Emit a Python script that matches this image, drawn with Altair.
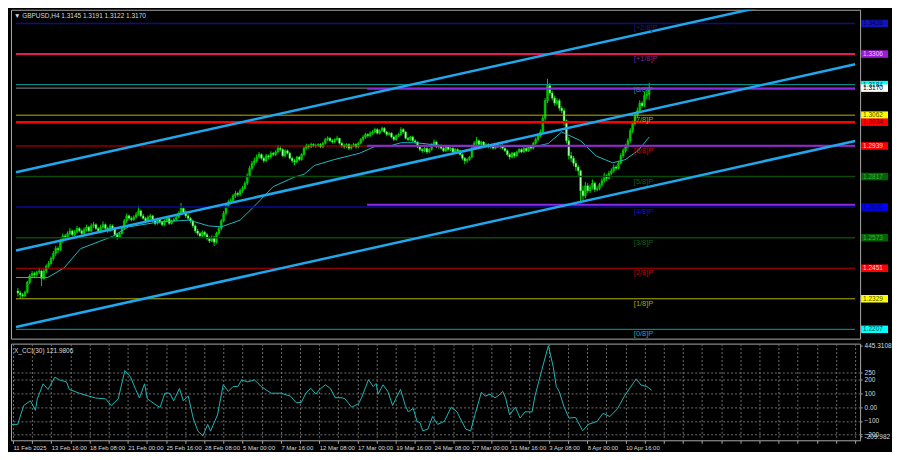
import altair as alt
import pandas as pd

# ---------------- layout ----------------
W = 852
H_MAIN = 330
H_CCI = 97
X_MIN, X_MAX = -0.814, 354.1
Y_MIN, Y_MAX = 1.21699, 1.34829

# ---------------- candles (pips: 2352 -> 1.2352) ----------------
first_open_pip = 2360
close_pips = [
 2352,2345,2340,2355,
 2395,2420,2430,2425,
 2435,2440,2410,
 2440,2460,2470,
 2490,2510,2530,2525,
 2560,2580,2575,2590,2600,2585,2595,2610,2600,2590,
 2605,2615,2600,2620,2625,2610,2600,2615,2625,2610,2600,2620,2610,
 2585,2575,2590,2610,
 2640,2660,2650,2645,2655,2665,2680,2660,2650,2640,2655,2660,
 2640,2630,2645,2635,2625,2640,2650,2630,2640,2645,2655,
 2670,2690,
 2675,2660,2650,2640,
 2620,2600,2590,2580,2595,2585,2570,2560,2575,2555,
 2590,2610,2640,2670,2700,2715,
 2720,2740,2750,2745,2760,2770,
 2790,2820,2850,2870,2880,2895,
 2905,2890,2880,2900,2895,2910,
 2905,2915,2930,2925,2900,2920,
 2910,2890,2880,2875,2895,2885,
 2905,2930,2940,2935,2945,2940,
 2940,2945,2935,2950,
 2965,2970,2960,2955,2965,2970,
 2950,2940,2935,2945,2930,2940,2945,2935,2950,
 2965,2975,2985,2980,2990,
 2995,3005,2990,3000,3010,2995,2985,2990,
 2975,2965,2980,2985,
 3005,2995,
 2970,2965,2975,2960,2955,
 2935,2925,2920,2930,2915,2925,
 2945,2955,2935,2940,
 2930,2920,2935,2925,2930,2915,2925,2920,
 2905,2890,2880,2885,2895,
 2930,2950,2960,2945,2955,2940,
 2945,2935,2940,2930,2945,2935,2940,2930,
 2920,2905,2895,2910,2900,2915,
 2925,2915,2930,2920,2935,2930,
 2950,2965,2980,2995,
 3050,3120,3180,3150,
 3130,3110,3120,3090,
 3080,3040,
 2960,2900,
 2890,2870,2855,2840,
 2760,2740,
 2780,2760,2775,2790,2765,2770,2785,
 2800,2820,2810,2830,
 2840,2855,2850,2870,
 2900,2920,2935,
 2960,3000,3030,3060,
 3080,3110,3100,
 3140,3145,3170]

high_pips = [
 2372,2360,2352,2362,
 2400,2428,2440,2438,
 2442,2452,2445,
 2448,2466,2480,
 2498,2520,2540,2538,
 2568,2590,2588,2598,2612,2605,2604,2620,2615,2606,
 2614,2625,2620,2630,2636,2630,2615,2625,2638,2630,2616,2628,2626,
 2615,2592,2596,2618,
 2648,2670,2665,2658,2662,2675,2700,2685,2668,2656,2662,2668,
 2664,2646,2652,2650,2640,2646,2658,2655,2645,2652,2662,
 2678,2712,
 2695,2682,2668,2656,
 2645,2626,2608,2598,2602,2600,2592,2578,2582,2580,
 2596,2618,2648,2680,2710,2725,
 2730,2748,2760,2756,2768,2780,
 2798,2830,2860,2880,2892,2905,
 2915,2910,2896,2908,2905,2918,
 2915,2922,2942,2938,2930,2926,
 2925,2915,2896,2888,2900,2900,
 2910,2936,2948,2946,2952,2950,
 2948,2950,2950,2956,
 2972,2978,2975,2966,2970,2980,
 2972,2955,2948,2950,2950,2945,2952,2950,2956,
 2970,2982,2992,2990,2998,
 3002,3012,3010,3006,3016,3014,3000,2996,
 2994,2980,2985,2992,
 3014,3010,
 2998,2976,2980,2980,2966,
 2958,2940,2932,2936,2934,2930,
 2950,2965,2960,2946,
 2945,2936,2940,2940,2935,2934,2930,2930,
 2924,2910,2895,2892,2900,
 2935,2958,2975,2965,2960,2958,
 2950,2950,2946,2944,2950,2948,2944,2946,
 2934,2925,2910,2915,2915,2920,
 2930,2930,2936,2934,2940,2940,
 2956,2972,2990,3005,
 3060,3130,3207,3190,
 3160,3140,3130,3128,
 3098,3090,
 3045,2975,
 2915,2900,2880,2862,
 2845,2780,
 2795,2790,2785,2805,2795,2780,2792,
 2810,2832,2826,2840,
 2850,2865,2862,2880,
 2910,2930,2948,
 2970,3010,3040,3072,
 3092,3122,3118,
 3155,3165,3191]

low_pips = [
 2338,2330,2333,2336,
 2350,2388,2412,2415,
 2418,2428,2380,
 2405,2432,2450,
 2462,2482,2500,2512,
 2520,2552,2566,2568,2582,2578,2580,2588,2594,2582,
 2584,2598,2594,2595,2612,2604,2592,2596,2608,2604,2592,2596,2602,
 2578,2565,2570,2585,
 2605,2632,2642,2638,2640,2650,2660,2655,2645,2632,2635,2648,
 2634,2622,2625,2630,2618,2620,2634,2624,2626,2636,2640,
 2650,2664,
 2668,2652,2644,2632,
 2612,2592,2582,2572,2575,2578,2562,2552,2555,2540,
 2550,2582,2602,2634,2662,2692,
 2705,2712,2732,2736,2738,2752,
 2765,2782,2812,2842,2860,2872,
 2888,2884,2872,2875,2885,2888,
 2898,2898,2910,2918,2895,2894,
 2905,2885,2872,2862,2870,2878,
 2880,2900,2925,2928,2930,2934,
 2932,2934,2930,2930,
 2945,2958,2955,2948,2950,2960,
 2945,2932,2928,2930,2922,2925,2934,2928,2930,
 2945,2958,2968,2972,2975,
 2984,2990,2985,2985,2995,2990,2978,2980,
 2970,2958,2960,2975,
 2980,2988,
 2965,2958,2960,2955,2948,
 2930,2918,2912,2915,2908,2910,
 2920,2938,2930,2928,
 2925,2914,2915,2920,2918,2910,2910,2912,
 2900,2882,2866,2872,2880,
 2890,2925,2942,2940,2940,2935,
 2935,2930,2928,2925,2926,2930,2928,2925,
 2915,2898,2885,2890,2892,2896,
 2910,2910,2912,2915,2915,2925,
 2925,2944,2958,2974,
 2990,3040,3110,3140,
 3120,3100,3102,3080,
 3070,3020,
 2950,2885,
 2875,2858,2840,2820,
 2710,2720,
 2730,2750,2752,2765,2755,2758,2762,
 2775,2792,2800,2805,
 2822,2832,2842,2845,
 2865,2892,2912,
 2928,2952,2990,3020,
 3050,3070,3092,
 3095,3125,3122]

# ---------------- moving average (bar, price) ----------------
ma_bar = [-0.8, 12.6, 19.5, 26.5, 40, 46.8, 60, 72.4, 80.6, 86, 94, 101, 108, 117, 121,
          125.4, 133.5, 144.5, 151, 158, 162, 167.3, 171.3, 178.3, 189.3, 198.6, 212, 219,
          224.3, 230, 238, 244.6, 251.5, 256.8, 262.5, 267]
ma_val = [1.2414, 1.2414, 1.2452, 1.2529, 1.2578, 1.2616, 1.2636, 1.2643, 1.2620, 1.2616,
          1.2643, 1.2708, 1.2777, 1.2815, 1.2826, 1.2861, 1.2884, 1.2910, 1.2937, 1.2941,
          1.2952, 1.2952, 1.2949, 1.2941, 1.2937, 1.2937, 1.2937, 1.2937, 1.2949, 1.2995,
          1.2960, 1.2899, 1.2872, 1.2884, 1.2922, 1.2975]

# ---------------- regression channel ----------------
chan_bar = [-0.814, 354.1]
chan_upper = [1.2834, 1.3577]
chan_mid = [1.2522, 1.3265]
chan_lower = [1.2216, 1.2959]

# ---------------- Murrey levels ----------------
level_names = ['[+2/8]P', '[+1/8]P', '[8/8]P', '[7/8]P', '[6/8]P', '[5/8]P',
               '[4/8]P', '[3/8]P', '[2/8]P', '[1/8]P', '[0/8]P']
level_prices = [1.3428, 1.3306, 1.3184, 1.3062, 1.2939, 1.2817,
                1.2695, 1.2573, 1.2451, 1.2329, 1.2207]
red_level = 1.3034
bid_price = 1.3170
purple_prices = [1.3167, 1.2940, 1.2704]
purple_from_bar = 147.7
LABEL_BAR = 260.5

level_line_colors = ['#0c0c8c', '#e8185a', '#00a0a0', '#b4b400', '#d40000', '#0a4a0a',
                     '#0a0a96', '#0a4a0a', '#c80000', '#b4b400', '#00a0a0']
level_line_widths = [1.5, 2, 1, 1, 1, 1.5, 1.5, 1.5, 1, 1, 1]
level_box_fill = ['#1414b4', '#9a1ed2', '#00ffff', '#ffff00', '#ff0000', '#006400',
                  '#0000ff', '#006400', '#ff0000', '#ffff00', '#00ffff']
level_box_text = ['#000060', '#f0c0ff', '#005050', '#505000', '#ffd0d0', '#40b040',
                  '#000070', '#40b040', '#ffd0d0', '#505000', '#005050']
level_label_colors = ['#1a1aa0', '#7a2a9a', '#3a7ab8', '#b4a000', '#d00000', '#106010',
                      '#1414c8', '#106010', '#c80000', '#b4a000', '#2aa0b4']

# ---------------- CCI ----------------
cci_bar = [-0.8, 2, 4.5, 7.3, 9.4, 10.2, 12.6, 14.7, 17.5, 19.5,
           22.4, 23.6, 27.7, 31.7, 34.6, 38.7, 41.1, 44, 46.8, 49.2,
           51.3, 52.9, 55, 56.2, 59, 61.5, 63.5, 65.5, 67.2, 69.6,
           71.2, 73.3, 75.3, 77.3, 79.4, 81.4, 82.6, 85.5, 87.9, 90,
           92, 94, 95.6, 98, 101, 103.8, 107.9, 112, 116, 118.4,
           120.5, 122.5, 124.5, 126.6, 128.2, 130.6, 132.7, 134.7, 137.6, 138.8,
           140.4, 141.6, 144.5, 145.7, 148.6, 150.6, 151.8, 152.6, 154.7, 156.7,
           158.7, 160, 162, 164, 165.2, 167.3, 168.9, 170.1, 171.3, 173.4,
           175.4, 177.5, 180.3, 183.2, 185.6, 187.6, 189.3, 191.3, 193.3, 195.8,
           197.4, 199.4, 201.5, 202.7, 204.7, 205.9, 207.6, 210, 212, 214,
           217, 218.2, 221, 223.8, 225.9, 227.1, 228.3, 230.4, 232.4, 235.2,
           238.1, 240.5, 244.2, 246.6, 249.5, 252.7, 255.6, 260.5, 262.5, 265,
           267]
cci_val = [-125, -125, 12, 46, -23, 60, 169, 128, 217, 197,
           183, 128, 101, 80, 66, 60, 12, 60, 265, 217,
           128, 66, 169, 60, 25, -2, 101, 101, 46, 135,
           46, 80, -77, -173, -208, -125, -173, -57, 162, 114,
           149, 149, 197, 183, 197, 149, 101, 101, 80, 32,
           34, 103, 137, 94, 128, 162, 135, 68, 68, 60,
           25, 0, 25, 68, 199, 149, 171, 94, 162, 114,
           12, 60, 128, 12, -34, -9, -103, -112, -171, -160,
           -68, -125, -103, 0, -34, -103, -160, -171, -45, 108,
           80, 94, 68, 80, 114, 68, -57, 0, -79, -34,
           -34, 80, 265, 445, 286, 149, 114, 0, -79, -75,
           -171, -125, -103, -45, -68, -11, 80, 205, 160, 149,
           122]
cci_max = 445.3108
cci_min = -209.982
cci_title = 'X_CCI(30) 121.9806'

# ---------------- axes text ----------------
x_labels = ['11 Feb 2025', '13 Feb 16:00', '18 Feb 08:00', '21 Feb 00:00', '25 Feb 16:00',
            '28 Feb 08:00', '5 Mar 00:00', '7 Mar 16:00', '12 Mar 08:00', '17 Mar 00:00',
            '19 Mar 16:00', '24 Mar 08:00', '27 Mar 00:00', '31 Mar 16:00', '3 Apr 08:00',
            '8 Apr 00:00', '10 Apr 16:00']
price_ticks = [1.2180, 1.2260, 1.2340, 1.2420, 1.2500, 1.2580, 1.2660, 1.2740, 1.2820,
               1.2900, 1.2980, 1.3060, 1.3140, 1.3220, 1.3300, 1.3380, 1.3460]
hidden_price_labels = ['1.3300', '1.3060', '1.2820', '1.2580', '1.2340']
grid_bars = list(range(0, 353, 8))
title_text = '\u25bc GBPUSD,H4  1.3145 1.3191 1.3122 1.3170'

FONT = 'Liberation Sans'

# ---------------- tables ----------------
n = len(close_pips)
opens = [first_open_pip] + close_pips[:-1]
cdf = pd.DataFrame({
    'i': list(range(n)),
    'o': [1 + v / 10000 for v in opens],
    'c': [1 + v / 10000 for v in close_pips],
    'h': [1 + max(h, o, c) / 10000 for h, o, c in zip(high_pips, opens, close_pips)],
    'l': [1 + min(l, o, c) / 10000 for l, o, c in zip(low_pips, opens, close_pips)],
})
madf = pd.DataFrame({'b': ma_bar, 'p': ma_val})

chan_rows = []
for name, vals in (('up', chan_upper), ('mid', chan_mid), ('low', chan_lower)):
    for b, p in zip(chan_bar, vals):
        chan_rows.append({'name': name, 'b': b, 'p': p})
chdf = pd.DataFrame(chan_rows)

line_rows = []
for p, col, w in zip(level_prices, level_line_colors, level_line_widths):
    line_rows.append({'p': p, 'col': col, 'w': w, 'x0': X_MIN, 'x1': X_MAX})
line_rows.append({'p': red_level, 'col': '#ff0000', 'w': 2.5, 'x0': X_MIN, 'x1': X_MAX})
line_rows.append({'p': bid_price, 'col': '#8c8c8c', 'w': 1, 'x0': X_MIN, 'x1': X_MAX})
for p in purple_prices:
    line_rows.append({'p': p, 'col': '#8a2be2', 'w': 2, 'x0': purple_from_bar, 'x1': X_MAX})
ldf = pd.DataFrame(line_rows)

BOX_HALF = 0.0015
box_rows = []
for p, f, t in zip(level_prices, level_box_fill, level_box_text):
    box_rows.append({'p': p, 'fill': f, 'tc': t})
box_rows.append({'p': red_level, 'fill': '#ff0000', 'tc': '#500000'})
box_rows.append({'p': bid_price, 'fill': '#ffffff', 'tc': '#000000'})
bdf = pd.DataFrame(box_rows)
bdf['top'] = bdf['p'] + BOX_HALF
bdf['bot'] = bdf['p'] - BOX_HALF
bdf['txt'] = bdf['p'].map(lambda v: f'{v:.4f}')

lbdf = pd.DataFrame({'name': level_names, 'p': level_prices,
                     'col': level_label_colors, 'lx': [LABEL_BAR] * len(level_names)})

cci_df = pd.DataFrame({'b': cci_bar, 'v': cci_val})

# ---------------- scales / axes ----------------
xs = alt.Scale(domain=[X_MIN, X_MAX], nice=False, zero=False)
ys = alt.Scale(domain=[Y_MIN, Y_MAX], nice=False, zero=False)
cs = alt.Scale(domain=[-240, 460], nice=False, zero=False)

hide_js = '[' + ','.join(f"'{s}'" for s in hidden_price_labels) + ']'
y_axis_main = alt.Axis(orient='right', values=price_ticks, title=None, grid=True,
                       labelExpr=f"indexof({hide_js}, format(datum.value, '.4f')) >= 0 ? '' : format(datum.value, '.4f')",
                       tickSize=2, labelPadding=2)
x_axis_main = alt.Axis(values=grid_bars, labels=False, ticks=False, title=None, grid=True)

xl_js = '[' + ','.join(f"'{s}'" for s in x_labels) + ']'
x_axis_cci = alt.Axis(values=grid_bars, title=None, grid=True, labelAlign='left',
                      labelExpr=f"(datum.value % 16 == 0 && datum.value <= 256) ? {xl_js}[datum.value / 16] : ''",
                      tickSize=3, labelPadding=1, labelFontSize=6)
y_axis_cci = alt.Axis(orient='right', values=[cci_min, -200, -100, 0, 100, 200, 250, cci_max],
                      title=None, grid=True, tickSize=2, labelPadding=2,
                      labelExpr=(f"datum.value > 400 ? '{cci_max}' : (datum.value < -205 ? '{cci_min}' : "
                                 "(datum.value == 0 ? '0.00' : format(datum.value, 'd')))"),
                      gridOpacity={'condition': {'test': 'datum.value > 400 || datum.value < -205', 'value': 0},
                                   'value': 1})

# ---------------- main panel ----------------
wick = alt.Chart(cdf).mark_rule(color='#00d000', strokeWidth=1).encode(
    x=alt.X('i:Q', scale=xs, axis=x_axis_main),
    y=alt.Y('l:Q', scale=ys, axis=y_axis_main),
    y2='h:Q')
body = alt.Chart(cdf).mark_bar(size=1.8, stroke='#00e000', strokeWidth=0.5).encode(
    x=alt.X('i:Q', scale=xs, axis=None),
    y=alt.Y('o:Q', scale=ys, axis=None),
    y2='c:Q',
    fill=alt.condition('datum.c >= datum.o', alt.value('#00c000'), alt.value('#c8ffc8')))
ma = alt.Chart(madf).mark_line(color='#1cb8be', strokeWidth=1).encode(
    x=alt.X('b:Q', scale=xs, axis=None),
    y=alt.Y('p:Q', scale=ys, axis=None))
lines = alt.Chart(ldf).mark_rule().encode(
    x=alt.X('x0:Q', scale=xs, axis=None), x2='x1:Q',
    y=alt.Y('p:Q', scale=ys, axis=None),
    color=alt.Color('col:N', scale=None),
    strokeWidth=alt.StrokeWidth('w:Q', scale=None))
channel = alt.Chart(chdf).mark_line(clip=True, strokeWidth=2.5, color='#1ea8ee').encode(
    x=alt.X('b:Q', scale=xs, axis=None),
    y=alt.Y('p:Q', scale=ys, axis=None),
    detail='name:N')
boxes = alt.Chart(bdf).mark_rect().encode(
    x=alt.value(W + 1), x2=alt.value(W + 28),
    y=alt.Y('top:Q', scale=ys, axis=None), y2='bot:Q',
    fill=alt.Fill('fill:N', scale=None))
box_text = alt.Chart(bdf).mark_text(align='left', baseline='middle', font=FONT, fontSize=6.5).encode(
    x=alt.value(W + 3),
    y=alt.Y('p:Q', scale=ys, axis=None),
    text='txt:N',
    color=alt.Color('tc:N', scale=None))
lvl_text = alt.Chart(lbdf).mark_text(align='left', baseline='top', font=FONT, fontSize=7.5, dy=1).encode(
    x=alt.X('lx:Q', scale=xs, axis=None),
    y=alt.Y('p:Q', scale=ys, axis=None),
    text='name:N',
    color=alt.Color('col:N', scale=None))
title = alt.Chart(pd.DataFrame({'t': [title_text]})).mark_text(
    align='left', baseline='middle', font=FONT, fontSize=6.5, color='#d8d8d8').encode(
    x=alt.value(3), y=alt.value(6), text='t:N')

main = alt.layer(wick, body, ma, lines, channel, boxes, box_text, lvl_text, title).properties(
    width=W, height=H_MAIN)

# ---------------- CCI panel ----------------
cci_line = alt.Chart(cci_df).mark_line(color='#20b4b4', strokeWidth=1).encode(
    x=alt.X('b:Q', scale=xs, axis=x_axis_cci),
    y=alt.Y('v:Q', scale=cs, axis=y_axis_cci))
cci_lbl = alt.Chart(pd.DataFrame({'t': [cci_title]})).mark_text(
    align='left', baseline='middle', font=FONT, fontSize=6.5, color='#d8d8d8').encode(
    x=alt.value(3), y=alt.value(7), text='t:N')
cci = alt.layer(cci_line, cci_lbl).properties(width=W, height=H_CCI)

chart = alt.vconcat(main, cci, spacing=2).properties(
    background='#000000', padding=0
).configure_view(
    stroke='#a8a8a8', strokeWidth=1
).configure_axis(
    labelFont=FONT, labelFontSize=6.5, labelColor='#d8d8d8',
    gridColor='#6e6e6e', gridDash=[2, 2], gridWidth=1,
    domain=False, tickColor='#a8a8a8',
    labelOverlap=False, labelFlush=False, labelBound=False
)

chart.save('out.html', embed_options={'renderer': 'svg', 'actions': False})
